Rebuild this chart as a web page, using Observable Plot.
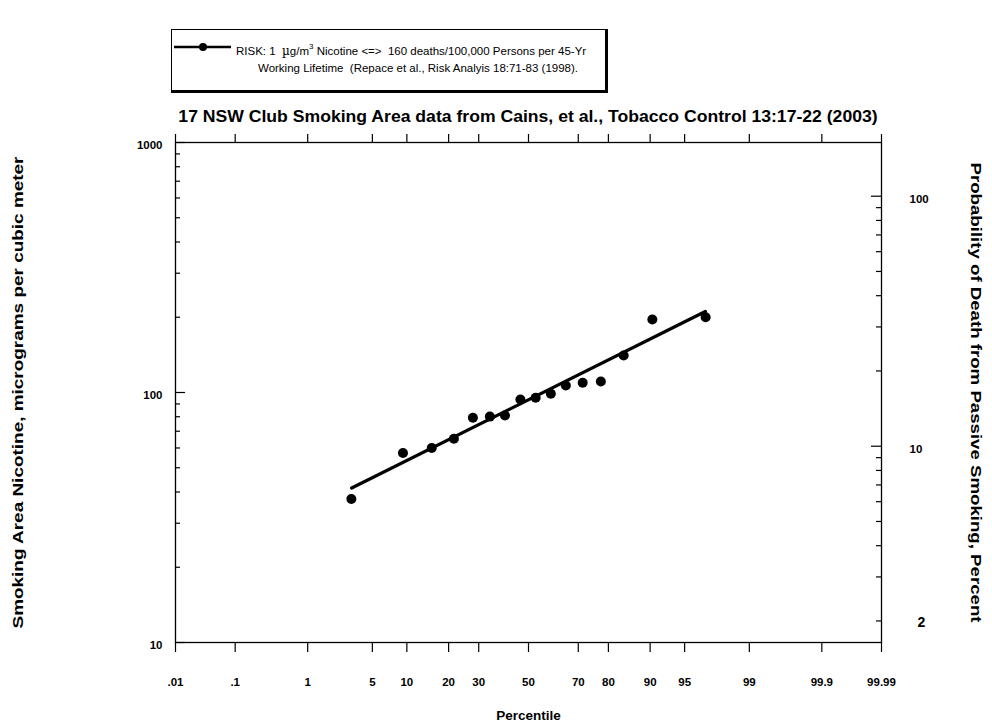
<!DOCTYPE html>
<html><head><meta charset="utf-8">
<script src="https://cdn.jsdelivr.net/npm/d3@7"></script>
<script src="https://cdn.jsdelivr.net/npm/@observablehq/plot@0.6"></script>
<style>
body{margin:0;background:#fff;font-family:"Liberation Sans",Arial,sans-serif;}
#wrap{position:relative;width:992px;height:725px;overflow:hidden;}
#chart{position:absolute;left:0;top:0;}
#legend{position:absolute;left:171px;top:29px;width:437px;height:64px;box-sizing:border-box;border-top:1px solid #000;border-left:1px solid #000;border-right:3px solid #000;border-bottom:3px solid #000;background:#fff;z-index:2;}
#legend .sym{position:absolute;left:2px;top:11px;}
#legend .t{position:absolute;font-size:11.5px;line-height:14px;white-space:pre;color:#000;}
#legend .mu{font-family:"DejaVu Serif",serif;font-size:12px;}
#legend sup{font-size:8px;vertical-align:6px;line-height:0;}
#title{position:absolute;left:0;width:1056px;top:108px;text-align:center;font-weight:bold;font-size:16px;white-space:pre;z-index:2;transform:scaleX(1.1);transform-origin:528px 0;}
</style>
</head><body>
<div id="wrap">
  <div id="chart"></div>
  <div id="legend">
    <svg class="sym" width="60" height="12"><line x1="0" y1="6" x2="57" y2="6" stroke="#000" stroke-width="2.5"/><circle cx="29" cy="6" r="4" fill="#000"/></svg>
    <div class="t" style="left:64px;top:14px;">RISK: 1  <span class="mu">µ</span>g/m<sup>3</sup> Nicotine &lt;=&gt;  160 deaths/100,000 Persons per 45-Yr</div>
    <div class="t" style="left:86px;top:31px;">Working Lifetime  (Repace et al., Risk Analyis 18:71-83 (1998).</div>
  </div>
  <div id="title">17 NSW Club Smoking Area data from Cains, et al., Tobacco Control 13:17-22 (2003)</div>
</div>
<script>
// ---- data ----
const percentiles = [3.1, 9.3, 15.4, 21.6, 27.9, 34.2, 40.2, 46.6, 53.0, 59.3, 65.3, 71.6, 77.7, 84.2, 90.4, 96.9];
const nicotine    = [37.5, 57.3, 60.0, 65.3, 79.2, 80.1, 80.9, 93.7, 95.3, 98.8, 106.6, 109.4, 110.7, 140.7, 196, 200];
const fitPercentiles = [3.125, 96.875];
const fitNicotine    = [41.5, 210.7];
const xTickPercent = [0.01, 0.1, 1, 5, 10, 20, 30, 50, 70, 80, 90, 95, 99, 99.9, 99.99];
const xTickLabels  = [".01", ".1", "1", "5", "10", "20", "30", "50", "70", "80", "90", "95", "99", "99.9", "99.99"];
const yMajor = [10, 100, 1000];
const yMinor = [20, 30, 40, 50, 60, 70, 80, 90, 200, 300, 400, 500, 600, 700, 800, 900];
const riskPercentPerUnit = 0.164; // percent death probability per ug/m3 (axis mapping)
const rightMajor = [10, 100];
const rightMinor = [2, 3, 4, 5, 6, 7, 8, 9, 20, 30, 40, 50, 60, 70, 80, 90];
const rightBig = [2];
const leftTitle = "Smoking Area Nicotine, micrograms per cubic meter";
const rightTitle = "Probability of Death from Passive Smoking, Percent";
const xTitle = "Percentile";

// inverse normal CDF (probability scale transform)
function probit(p){
  const a=[-3.969683028665376e+01,2.209460984245205e+02,-2.759285104469687e+02,1.383577518672690e+02,-3.066479806614716e+01,2.506628277459239e+00];
  const b=[-5.447609879822406e+01,1.615858368580409e+02,-1.556989798598866e+02,6.680131188771972e+01,-1.328068155288572e+01];
  const c=[-7.784894002430293e-03,-3.223964580411365e-01,-2.400758277161838e+00,-2.549671688306863e+00,4.374664141464968e+00,2.938163982698783e+00];
  const d=[7.784695709041462e-03,3.224671290700398e-01,2.445134137142996e+00,3.754408661907416e+00];
  const pl=0.02425, ph=1-pl; let q,r;
  if(p<pl){q=Math.sqrt(-2*Math.log(p));return (((((c[0]*q+c[1])*q+c[2])*q+c[3])*q+c[4])*q+c[5])/((((d[0]*q+d[1])*q+d[2])*q+d[3])*q+1);}
  if(p>ph){q=Math.sqrt(-2*Math.log(1-p));return -(((((c[0]*q+c[1])*q+c[2])*q+c[3])*q+c[4])*q+c[5])/((((d[0]*q+d[1])*q+d[2])*q+d[3])*q+1);}
  q=p-0.5;r=q*q;return (((((a[0]*r+a[1])*r+a[2])*r+a[3])*r+a[4])*r+a[5])*q/(((((b[0]*r+b[1])*r+b[2])*r+b[3])*r+b[4])*r+1);
}
const z = pct => probit(pct / 100);

const points = percentiles.map((p, i) => ({z: z(p), n: nicotine[i]}));
const fit = fitPercentiles.map((p, i) => ({z: z(p), n: fitNicotine[i]}));
const xTicksZ = xTickPercent.map(z);
const xLabelMap = new Map(xTicksZ.map((v, i) => [v, xTickLabels[i]]));
const toN = r => r / riskPercentPerUnit;

const W = 992, H = 725, mL = 175, mR = 111, mT = 142, mB = 83;
const frameW = W - mL - mR;

const chart = Plot.plot({
  width: W, height: H,
  marginLeft: mL, marginRight: mR, marginTop: mT, marginBottom: mB,
  style: {fontFamily: "'Liberation Sans', Arial, sans-serif", fontSize: "11.5px", fontWeight: "bold", color: "#000", background: "#fff"},
  x: {type: "linear", domain: [z(0.01), z(99.99)], axis: null},
  y: {type: "log", domain: [10, 1000], axis: null},
  marks: [
    Plot.frame({stroke: "#000", strokeWidth: 1.3}),
    // left ticks (inward)
    Plot.tickY(yMajor, {y: d => d, insetRight: frameW - 10, stroke: "#000", strokeWidth: 1.2}),
    Plot.tickY(yMinor, {y: d => d, insetRight: frameW - 5, stroke: "#000", strokeWidth: 1.2}),
    // right ticks (inward)
    Plot.tickY(rightMajor.map(toN), {y: d => d, insetLeft: frameW - 10, stroke: "#000", strokeWidth: 1.2}),
    Plot.tickY(rightMinor.map(toN), {y: d => d, insetLeft: frameW - 5, stroke: "#000", strokeWidth: 1.2}),
    // left labels
    Plot.axisY({anchor: "left", ticks: yMajor, tickSize: 0, tickPadding: 13, tickFormat: d => String(d), label: null, dy: 3}),
    // right labels
    Plot.text(rightMajor, {y: d => toN(d), text: d => String(d), frameAnchor: "right", dx: 28, dy: 3, textAnchor: "start", fontSize: 11.5, fontWeight: "bold", fill: "#000"}),
    Plot.text(rightBig, {y: d => toN(d), text: d => String(d), frameAnchor: "right", dx: 36, dy: 2, textAnchor: "start", fontSize: 14, fontWeight: "bold", fill: "#000"}),
    // bottom axis
    Plot.axisX({anchor: "bottom", ticks: xTicksZ, tickSize: 10, tickPadding: 25, tickFormat: d => xLabelMap.get(d), label: null, stroke: "#000", strokeWidth: 1.2}),
    // top ticks
    Plot.axisX({anchor: "top", ticks: xTicksZ, tickSize: 9, tickFormat: () => "", label: null, stroke: "#000", strokeWidth: 1.2}),
    // axis titles
    Plot.text([leftTitle], {text: d => d, frameAnchor: "left", dx: -157, rotate: -90, textAnchor: "middle", fontSize: 14, fontWeight: "bold", fill: "#000"}),
    Plot.text([rightTitle], {text: d => d, frameAnchor: "right", dx: 94, rotate: 90, textAnchor: "middle", fontSize: 14, fontWeight: "bold", fill: "#000"}),
    Plot.text([xTitle], {text: d => d, frameAnchor: "bottom", dy: 77, fontSize: 13.5, fontWeight: "bold", fill: "#000"}),
    // regression line and data
    Plot.line(fit, {x: "z", y: "n", stroke: "#000", strokeWidth: 3.3}),
    Plot.dot(points, {x: "z", y: "n", r: 5, fill: "#000", stroke: "none"})
  ]
});
chart.querySelectorAll("text").forEach(t => {
  if (t.textContent === leftTitle) { t.setAttribute("textLength", 472); t.setAttribute("lengthAdjust", "spacingAndGlyphs"); }
  if (t.textContent === rightTitle) { t.setAttribute("textLength", 460); t.setAttribute("lengthAdjust", "spacingAndGlyphs"); }
});
document.getElementById("chart").appendChild(chart);
</script>
</body></html>
